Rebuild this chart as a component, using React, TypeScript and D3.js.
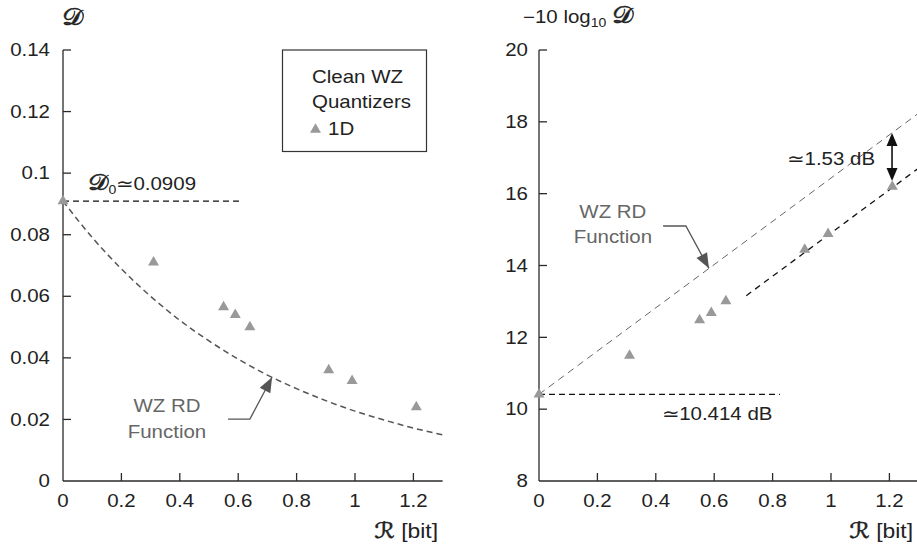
import React from "react";
import * as d3 from "d3";

// ---- data ----
const RATES = [0, 0.31, 0.55, 0.59, 0.64, 0.91, 0.99, 1.21];
const DIST_1D = [0.0909, 0.071, 0.0565, 0.054, 0.05, 0.036, 0.0325, 0.024];
const SNR_1D = [10.414, 11.49, 12.48, 12.68, 13.01, 14.44, 14.88, 16.2];

const RD_R = [0, 0.1, 0.2, 0.3, 0.4, 0.5, 0.6, 0.7, 0.8, 0.9, 1.0, 1.1, 1.2, 1.3];
const RD_D = [0.0909, 0.0791, 0.0689, 0.06, 0.0522, 0.0455, 0.0396, 0.0344, 0.03, 0.0261, 0.0227, 0.0198, 0.0172, 0.015];

const RD_LINE_R = [0, 1.3];
const RD_LINE_DB = [10.414, 18.24];
const Q1D_LINE_R = [0.71, 1.3];
const Q1D_LINE_DB = [13.16, 16.71];

const X_TICKS = [0, 0.2, 0.4, 0.6, 0.8, 1, 1.2];
const X_TICK_LABELS = ["0", "0.2", "0.4", "0.6", "0.8", "1", "1.2"];
const YL_TICKS = [0, 0.02, 0.04, 0.06, 0.08, 0.1, 0.12, 0.14];
const YL_TICK_LABELS = ["0", "0.02", "0.04", "0.06", "0.08", "0.1", "0.12", "0.14"];
const YR_TICKS = [8, 10, 12, 14, 16, 18, 20];
const YR_TICK_LABELS = ["8", "10", "12", "14", "16", "18", "20"];

const D0_LINE_R = [0, 0.606];
const D0_VALUE = 0.0909;
const DB0_LINE_R = [0, 0.825];
const DB0_VALUE = 10.414;

// ---- layout ----
const W = 917;
const H = 545;
const FONT = "'Liberation Sans', Arial, Helvetica, sans-serif";
const FS = 17.5;
const SX = 1.17;
const AXIS = "#2a2a2a";
const TXT = "#222";
const GRAYTXT = "#666";
const MARK = "#999";

const xL = d3.scaleLinear().domain([0, 1.3]).range([63, 63 + 1.3 * 292]);
const yL = d3.scaleLinear().domain([0, 0.14]).range([481, 50]);
const xR = d3.scaleLinear().domain([0, 1.3]).range([539, 539 + 1.3 * 292]);
const yR = d3.scaleLinear().domain([8, 20]).range([481, 50]);

const tri = d3.symbol().type(d3.symbolTriangle).size(52)();

function T(props: {
  x: number;
  y: number;
  anchor?: string;
  fill?: string;
  size?: number;
  children: React.ReactNode;
}) {
  const { x, y, anchor = "start", fill = TXT, size = FS, children } = props;
  return (
    <text
      transform={`translate(${x},${y}) scale(${SX},1)`}
      textAnchor={anchor}
      fill={fill}
      fontSize={size}
      fontFamily={FONT}
    >
      {children}
    </text>
  );
}

function head(tx: number, ty: number, fx: number, fy: number, len: number, hw: number) {
  const dx = tx - fx;
  const dy = ty - fy;
  const l = Math.hypot(dx, dy);
  const ux = dx / l;
  const uy = dy / l;
  const bx = tx - ux * len;
  const by = ty - uy * len;
  return `${tx},${ty} ${bx - uy * hw},${by + ux * hw} ${bx + uy * hw},${by - ux * hw}`;
}

const scriptFont = "'DejaVu Serif', 'DejaVu Sans', serif";

function Script(props: { ch: string; size: number }) {
  return (
    <tspan fontFamily={scriptFont} fontSize={props.size} stroke={TXT} strokeWidth={0.5}>
      {props.ch}
    </tspan>
  );
}

function Plain(props: { children: React.ReactNode; dy?: number; size?: number }) {
  return (
    <tspan fontFamily={FONT} fontSize={props.size ?? FS} dy={props.dy} stroke="none">
      {props.children}
    </tspan>
  );
}

export default function App() {
  const rdCurve = d3
    .line<number>()
    .x((_, i) => xL(RD_R[i]))
    .y((d) => yL(d))
    .curve(d3.curveMonotoneX)(RD_D) as string;

  // left leader
  const lStart = [xL(0.565), yL(0.0201)];
  const lElbow = [xL(0.64), yL(0.0201)];
  const lTip = [xL(0.716), yL(0.0337)];
  // right leader
  const rStart = [xR(0.425), yR(15.1)];
  const rElbow = [xR(0.503), yR(15.1)];
  const rTip = [xR(0.582), yR(13.92)];
  // double arrow
  const dax = xR(1.209);
  const daTop = yR(17.69);
  const daBot = yR(16.35);

  return (
    <svg
      width={W}
      height={H}
      style={{ position: "absolute", left: 0, top: 0, background: "#fff" }}
    >
      <rect width={W} height={H} fill="#fff" />

      {/* ================= LEFT PANEL ================= */}
      <g>
        <line x1={xL(0)} x2={xL(0)} y1={yL(0.14)} y2={yL(0)} stroke={AXIS} strokeWidth={1.3} />
        <line x1={xL(0)} x2={xL(1.3)} y1={yL(0)} y2={yL(0)} stroke={AXIS} strokeWidth={1.3} />
        {YL_TICKS.map((t, i) => (
          <g key={"yl" + i}>
            {t > 0 && (
              <line x1={xL(0)} x2={xL(0) + 8} y1={yL(t)} y2={yL(t)} stroke={AXIS} strokeWidth={1.3} />
            )}
            <T x={xL(0) - 13} y={yL(t) + 6.2} anchor="end">
              {YL_TICK_LABELS[i]}
            </T>
          </g>
        ))}
        {X_TICKS.map((t, i) => (
          <g key={"xl" + i}>
            {t > 0 && (
              <line x1={xL(t)} x2={xL(t)} y1={yL(0)} y2={yL(0) - 8} stroke={AXIS} strokeWidth={1.3} />
            )}
            <T x={xL(t)} y={yL(0) + 26} anchor="middle">
              {X_TICK_LABELS[i]}
            </T>
          </g>
        ))}
        <T x={62} y={25}>
          <Script ch="𝒟" size={23} />
        </T>
        <T x={438} y={538} anchor="end">
          <Script ch="ℛ" size={22} />
          <Plain size={19.5}>{"\u00a0[bit]"}</Plain>
        </T>

        {/* D0 line */}
        <line
          x1={xL(D0_LINE_R[0])}
          x2={xL(D0_LINE_R[1])}
          y1={yL(D0_VALUE)}
          y2={yL(D0_VALUE)}
          stroke="#111"
          strokeWidth={1.2}
          strokeDasharray="6,4"
        />
        <T x={xL(0.0856)} y={yL(0.0945)}>
          <Script ch="𝒟" size={22} />
          <Plain size={12} dy={4}>0</Plain>
          <Plain dy={-4}>≃0.0909</Plain>
        </T>

        {/* RD curve */}
        <path d={rdCurve} fill="none" stroke="#555" strokeWidth={1.5} strokeDasharray="6,4" />

        {/* leader */}
        <polyline
          points={`${lStart[0]},${lStart[1]} ${lElbow[0]},${lElbow[1]} ${lTip[0]},${lTip[1]}`}
          fill="none"
          stroke="#555"
          strokeWidth={1.3}
        />
        <polygon points={head(lTip[0], lTip[1], lElbow[0], lElbow[1], 15, 6)} fill="#555" />
        <T x={xL(0.356)} y={yL(0.0224)} anchor="middle" fill={GRAYTXT}>
          WZ RD
        </T>
        <T x={xL(0.356)} y={yL(0.01397)} anchor="middle" fill={GRAYTXT}>
          Function
        </T>

        {/* points */}
        {RATES.map((r, i) => (
          <path key={"pl" + i} d={tri} transform={`translate(${xL(r)},${yL(DIST_1D[i])})`} fill={MARK} />
        ))}

        {/* legend */}
        <rect x={282.5} y={50} width={144} height={101.5} fill="#fff" stroke="#333" strokeWidth={1.2} />
        <T x={312} y={83}>Clean WZ</T>
        <T x={312} y={108}>Quantizers</T>
        <path d={tri} transform="translate(315.5,129.5)" fill={MARK} />
        <T x={328} y={135}>1D</T>
      </g>

      {/* ================= RIGHT PANEL ================= */}
      <g>
        <line x1={xR(0)} x2={xR(0)} y1={yR(20)} y2={yR(8)} stroke={AXIS} strokeWidth={1.3} />
        <line x1={xR(0)} x2={xR(1.3)} y1={yR(8)} y2={yR(8)} stroke={AXIS} strokeWidth={1.3} />
        {YR_TICKS.map((t, i) => (
          <g key={"yr" + i}>
            {t > 8 && (
              <line x1={xR(0)} x2={xR(0) + 8} y1={yR(t)} y2={yR(t)} stroke={AXIS} strokeWidth={1.3} />
            )}
            <T x={xR(0) - 11} y={yR(t) + 6.2} anchor="end">
              {YR_TICK_LABELS[i]}
            </T>
          </g>
        ))}
        {X_TICKS.map((t, i) => (
          <g key={"xr" + i}>
            {t > 0 && (
              <line x1={xR(t)} x2={xR(t)} y1={yR(8)} y2={yR(8) - 8} stroke={AXIS} strokeWidth={1.3} />
            )}
            <T x={xR(t)} y={yR(8) + 26} anchor="middle">
              {X_TICK_LABELS[i]}
            </T>
          </g>
        ))}
        <T x={523} y={23}>
          <Plain>−10 log</Plain>
          <Plain size={12} dy={4}>10</Plain>
          <Plain dy={-4}>{"\u00a0"}</Plain>
          <Script ch="𝒟" size={23} />
        </T>
        <T x={913} y={538} anchor="end">
          <Script ch="ℛ" size={22} />
          <Plain size={19.5}>{"\u00a0[bit]"}</Plain>
        </T>

        {/* baseline dB */}
        <line
          x1={xR(DB0_LINE_R[0])}
          x2={xR(DB0_LINE_R[1])}
          y1={yR(DB0_VALUE)}
          y2={yR(DB0_VALUE)}
          stroke="#111"
          strokeWidth={1.2}
          strokeDasharray="6,4"
        />
        <T x={xR(0.421)} y={yR(9.7)}>≃10.414 dB</T>

        {/* RD line */}
        <line
          x1={xR(RD_LINE_R[0])}
          x2={xR(RD_LINE_R[1])}
          y1={yR(RD_LINE_DB[0])}
          y2={yR(RD_LINE_DB[1])}
          stroke="#666"
          strokeWidth={1}
          strokeDasharray="7,5"
        />
        {/* 1D asymptote */}
        <line
          x1={xR(Q1D_LINE_R[0])}
          x2={xR(Q1D_LINE_R[1])}
          y1={yR(Q1D_LINE_DB[0])}
          y2={yR(Q1D_LINE_DB[1])}
          stroke="#111"
          strokeWidth={1.3}
          strokeDasharray="6,5"
        />

        {/* leader */}
        <polyline
          points={`${rStart[0]},${rStart[1]} ${rElbow[0]},${rElbow[1]} ${rTip[0]},${rTip[1]}`}
          fill="none"
          stroke="#555"
          strokeWidth={1.3}
        />
        <polygon points={head(rTip[0], rTip[1], rElbow[0], rElbow[1], 15, 6)} fill="#555" />
        <T x={xR(0.253)} y={yR(15.32)} anchor="middle" fill={GRAYTXT}>
          WZ RD
        </T>
        <T x={xR(0.253)} y={yR(14.63)} anchor="middle" fill={GRAYTXT}>
          Function
        </T>

        {/* double arrow */}
        <line x1={dax} x2={dax} y1={daTop + 10} y2={daBot - 10} stroke="#111" strokeWidth={1.6} />
        <polygon points={head(dax, daTop, dax, daBot, 13, 5.5)} fill="#111" />
        <polygon points={head(dax, daBot, dax, daTop, 13, 5.5)} fill="#111" />
        <T x={xR(1.151)} y={yR(16.8)} anchor="end">≃1.53 dB</T>

        {/* points */}
        {RATES.map((r, i) => (
          <path key={"pr" + i} d={tri} transform={`translate(${xR(r)},${yR(SNR_1D[i])})`} fill={MARK} />
        ))}
      </g>
    </svg>
  );
}
